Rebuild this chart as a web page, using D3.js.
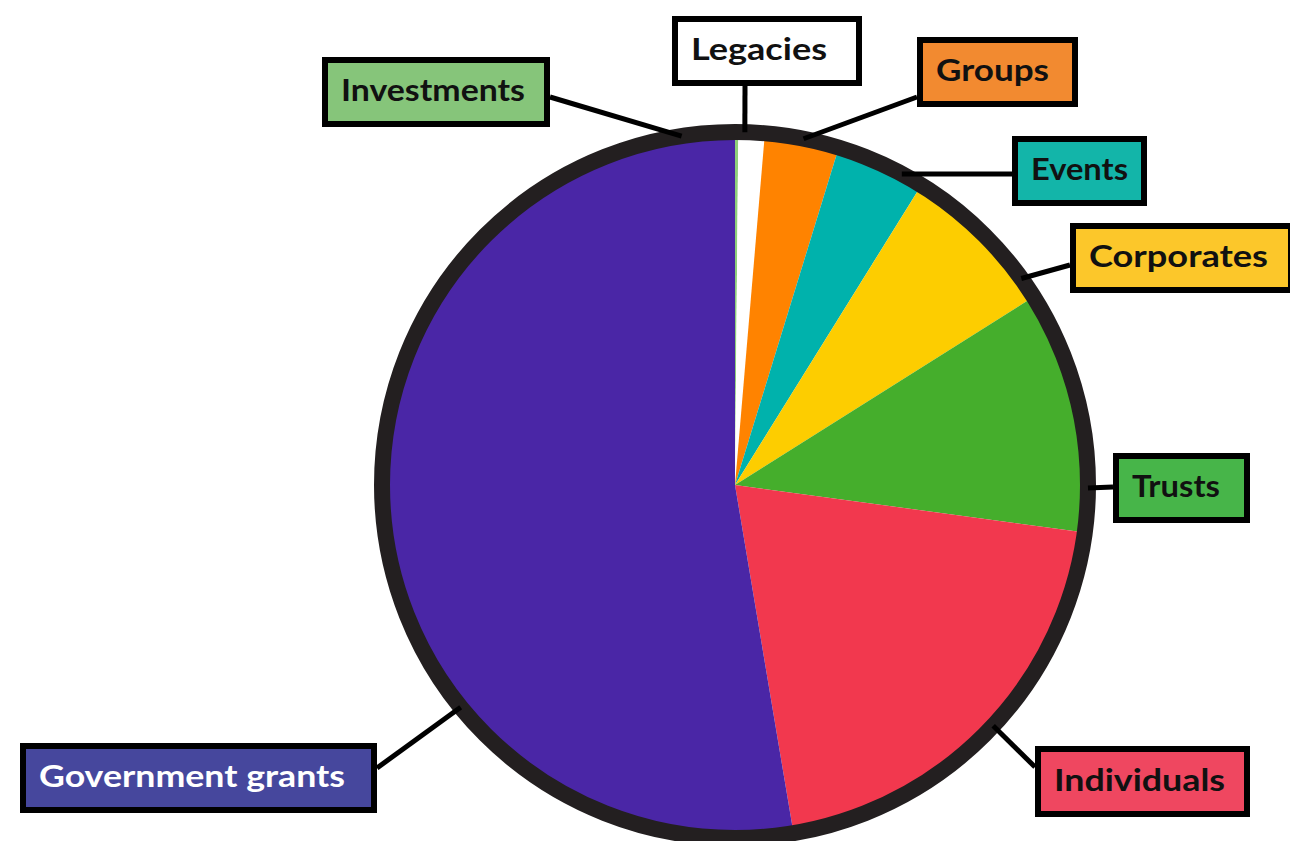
<!DOCTYPE html>
<html>
<head>
<meta charset="utf-8">
<script src="https://cdn.jsdelivr.net/npm/d3@7"></script>
<style>
  html, body { margin: 0; padding: 0; background: #fff; }
  svg { display: block; }
</style>
</head>
<body>
<svg id="pie" width="1290" height="841"></svg>
<script>
// data, clockwise from 12 o'clock (share of income, %)
const categories = ["Investments", "Legacies", "Groups", "Events", "Corporates", "Trusts", "Individuals", "Government grants"];
const shares = [0.15, 1.2, 3.4, 4.1, 7.2, 11.1, 20.2, 52.65];

// colours
const sliceColors = ["#8fce7a", "#ffffff", "#ff8300", "#00b2ac", "#fdcd00", "#45ae2c", "#f2384e", "#4a26a6"];
const boxColors = ["#86c57a", "#ffffff", "#f28a30", "#13b5a9", "#fcc72a", "#47b549", "#ef4760", "#46479d"];
const textColors = ["#111", "#111", "#111", "#111", "#111", "#111", "#111", "#fff"];

// label boxes (layout only): box, where the leader touches the ring (deg), where it meets the box
const labelLayout = [
  { x: 322, y: 57, w: 228, h: 70, ang: -8.7, end: [550, 97], textW: 184 },
  { x: 672, y: 16, w: 190, h: 70, ang: 1.6, end: [745, 86], textW: 136 },
  { x: 917, y: 37, w: 161, h: 70, ang: 11.2, end: [917, 97], textW: 113 },
  { x: 1012, y: 136, w: 135, h: 70, ang: 28.2, end: [1012, 174], textW: 97 },
  { x: 1070, y: 223, w: 224, h: 70, ang: 54.2, end: [1070, 265], textW: 179 },
  { x: 1113, y: 453, w: 137, h: 70, ang: 90.5, end: [1113, 487], textW: 88 },
  { x: 1035, y: 746, w: 215, h: 71, ang: 133, end: [1035, 767], textW: 171 },
  { x: 20, y: 743, w: 357, h: 70, ang: 231, end: [377, 768], textW: 306 },
];

const svg = d3.select("#pie");
const cx = 735, cy = 485;
const radius = 353;
const ringWidth = 16;

const pie = d3.pie().sort(null).value((d) => d.value);
const arc = d3.arc().innerRadius(0).outerRadius(radius);

const data = categories.map((c, i) => ({ name: c, value: shares[i], i }));

const chart = svg.append("g").attr("transform", `translate(${cx},${cy})`);

// leader lines first, so the ring sits on top
svg.append("g")
  .selectAll("line")
  .data(labelLayout)
  .join("line")
  .attr("x1", (d) => cx + d3.pointRadial((d.ang * Math.PI) / 180, radius)[0])
  .attr("y1", (d) => cy + d3.pointRadial((d.ang * Math.PI) / 180, radius)[1])
  .attr("x2", (d) => d.end[0])
  .attr("y2", (d) => d.end[1])
  .attr("stroke", "#000")
  .attr("stroke-width", 5);

chart.selectAll("path")
  .data(pie(data))
  .join("path")
  .attr("d", arc)
  .attr("fill", (d) => sliceColors[d.data.i]);

// thick dark rim
chart.append("circle")
  .attr("r", radius)
  .attr("fill", "none")
  .attr("stroke", "#231f20")
  .attr("stroke-width", ringWidth);

// label boxes
const labels = svg.append("g")
  .selectAll("g")
  .data(labelLayout)
  .join("g");

labels.append("rect")
  .attr("x", (d) => d.x + 3)
  .attr("y", (d) => d.y + 3)
  .attr("width", (d) => d.w - 6)
  .attr("height", (d) => d.h - 6)
  .attr("fill", (d, i) => boxColors[i])
  .attr("stroke", "#000")
  .attr("stroke-width", 6);

labels.append("text")
  .attr("x", (d) => d.x + 19)
  .attr("y", (d) => d.y + d.h / 2 + 9)
  .attr("font-family", "Lato, 'Open Sans', sans-serif")
  .attr("font-weight", 700)
  .attr("font-size", 31)
  .attr("textLength", (d) => d.textW)
  .attr("lengthAdjust", "spacingAndGlyphs")
  .attr("fill", (d, i) => textColors[i])
  .text((d, i) => categories[i]);
</script>
</body>
</html>
